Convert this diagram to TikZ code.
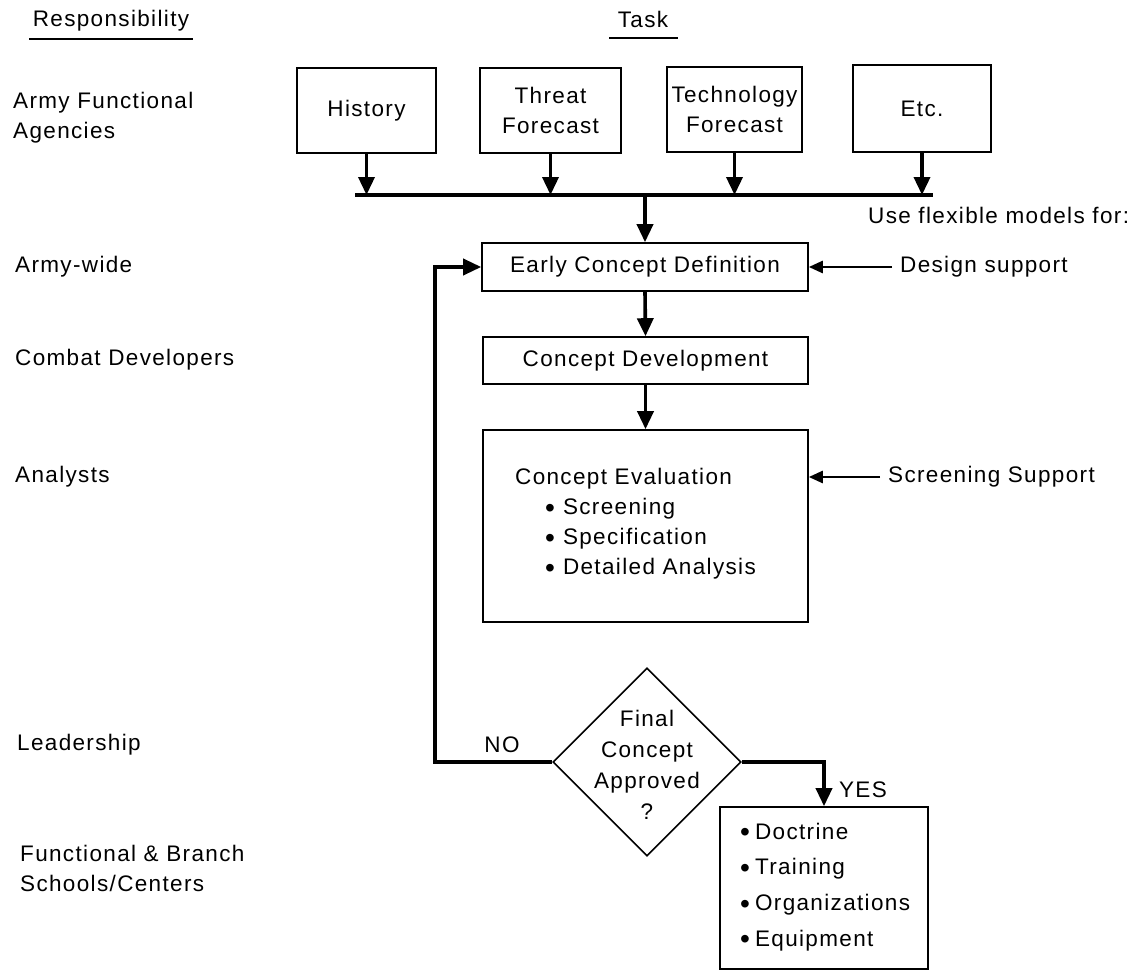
\documentclass[tikz,border=0pt]{standalone}
\usepackage{fontspec}
\setmainfont{Liberation Sans}[LetterSpace=6]
\usetikzlibrary{arrows.meta,shapes.geometric}
\newcommand{\dotitem}{\raisebox{-2.5pt}{\scalebox{1.25}{\textbullet}}}
\begin{document}
\begin{tikzpicture}[x=1pt,y=-1pt,
  every node/.style={font=\fontsize{22.5}{30}\selectfont, inner sep=0pt},
  box/.style={draw, line width=1.6pt, align=center},
  lbl/.style={anchor=west, align=left},
  flow/.style={line width=3.6pt, -{Triangle[length=18pt,width=16pt]}},
  flowsm/.style={line width=2.6pt, -{Triangle[length=14pt,width=12pt]}},
  bus/.style={line width=3.6pt},
  rule/.style={line width=1.5pt}]
\useasboundingbox (0,0) rectangle (1138,971);

% column headings
\node (hResp) at (111,21) {Responsibility};
\draw[rule] (29,39) -- (193,39);
\node (hTask) at (643,19) {Task};
\draw[rule] (609,38) -- (678,38);

% responsibility column
\node[lbl] (rAgency) at (13,118) {Army Functional\\Agencies};
\node[lbl] (rWide) at (15,267) {Army-wide};
\node[lbl] (rCombat) at (15,360) {Combat Developers};
\node[lbl] (rAnalyst) at (15,477) {Analysts};
\node[lbl] (rLead) at (17,745) {Leadership};
\node[lbl] (rSchool) at (20,868) {Functional \& Branch\\Schools/Centers};

% input agencies
\node[box, minimum width=139pt, minimum height=85pt] (hist) at (366.5,110.5) {History};
\node[box, minimum width=141pt, minimum height=85pt] (threat) at (550.5,110.5) {Threat\\Forecast};
\node[box, minimum width=135pt, minimum height=85pt] (tech) at (734.5,109.5) {Technology\\Forecast};
\node[box, minimum width=138pt, minimum height=87pt] (etc) at (922,108.5) {Etc.};

% collecting bus
\coordinate (busL) at (355,195);
\coordinate (busR) at (933,195);
\draw[bus] (busL) -- (busR);
\foreach \n in {hist,threat,tech,etc}
  \draw[flow] (\n.south) -- (\n.south |- busL);

% main flow
\node[box, minimum width=326pt, minimum height=48pt] (ecd) at (645,267) {Early Concept Definition};
\node[box, minimum width=325pt, minimum height=47pt] (cd) at (645.5,360.5) {Concept Development};
\node[box, minimum width=325pt, minimum height=192pt] (ce) at (645.5,526) {};
\node[anchor=west, align=left] (ceText) at (515,524) {Concept Evaluation\\
  \hspace*{30pt}\dotitem\hspace{8pt}Screening\\
  \hspace*{30pt}\dotitem\hspace{8pt}Specification\\
  \hspace*{30pt}\dotitem\hspace{8pt}Detailed Analysis};

\draw[flow] (ecd.north |- busL) -- (ecd.north);
\draw[flow] (ecd.south) -- (cd.north);
\draw[flow] (cd.south) -- (ce.north);

% decision
\node[draw, diamond, line width=1.6pt, minimum width=188pt, minimum height=188pt] (dec) at (647,762) {};
\node[align=center, font=\fontsize{22.5}{31}\selectfont] (decText) at (647,765) {Final\\Concept\\Approved\\?};

% outputs
\node[box, minimum width=208pt, minimum height=162pt] (out) at (824,888) {};
\node[anchor=west, align=left, font=\fontsize{22.5}{35.7}\selectfont] (outText) at (740,887) {%
  \dotitem\hspace{5pt}Doctrine\\
  \dotitem\hspace{5pt}Training\\
  \dotitem\hspace{5pt}Organizations\\
  \dotitem\hspace{5pt}Equipment};

% decision branches
\coordinate (fb) at (435,0);
\node (no) at (502,745) {NO};
\draw[flow, line join=miter] (dec.west) -- (dec.west -| fb) |- (ecd.west);
\node (yes) at (863,790) {YES};
\draw[flow, line join=miter] (dec.east) -| (out.north);

% model support
\node[anchor=west] (useFor) at (868,215) {Use flexible models for:};
\node[anchor=west] (design) at (900,267) {Design support};
\draw[flowsm, shorten <=8pt] (design.west) -- (ecd.east);
\node[anchor=west] (screen) at (888,477) {Screening Support};
\draw[flowsm, shorten <=8pt] (screen.west) -- (ce.east |- screen.west);
\end{tikzpicture}
\end{document}
